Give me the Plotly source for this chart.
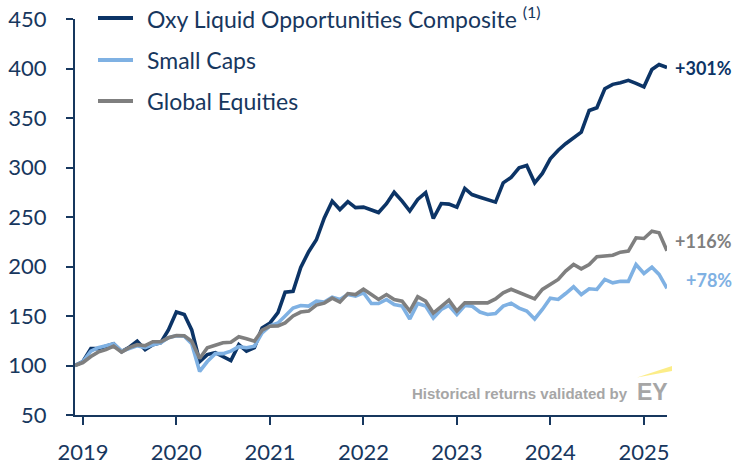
import plotly.graph_objects as go
import pandas as pd

# Monthly observations, Dec 2018 .. Apr 2025 (index, start = 100)
dates = pd.date_range("2018-12-01", "2025-04-01", freq="MS")

oxy = [100, 104, 117, 117, 119.5, 122, 114, 118.5, 124.5, 116, 121, 123,
       136, 154, 151.5, 136, 104, 111, 113, 109, 105, 121, 114.5, 118,
       138, 143, 153.5, 174, 175, 199, 215, 227, 249, 266, 257.5, 265.5,
       259.5, 260, 257.5, 254.5, 263.5, 275, 266, 256, 267.7, 274.5, 248.5, 263.6,
       263, 260, 278.8, 272.7, 270, 267.7, 265, 284.5, 290, 299.7, 302, 284.5,
       294, 308.8, 317.5, 324, 330, 335.7, 357.6, 360.3, 379.5, 384, 385.6, 388,
       385, 381.5, 399, 404, 401]

small_caps = [100, 104, 114.5, 118, 120, 122, 114.5, 117.5, 120, 118, 121, 123,
              128, 130, 129.5, 122, 94, 104, 112, 112, 114.5, 119, 118, 119.5,
              133, 140, 143, 150, 158, 160.6, 160, 165, 164, 169, 166.7, 171.7,
              170, 173.5, 162.6, 162.6, 166.7, 161.6, 160, 147, 162.6, 160, 148, 156.6,
              160.6, 151.5, 160.6, 160, 154, 151.5, 152.5, 160, 163, 158, 155, 147,
              156.6, 168, 166.7, 172.7, 179.5, 171.7, 177.5, 176.8, 187, 183.5, 185, 185,
              202, 193, 199.3, 192, 178]

global_eq = [100, 103, 109, 113.5, 116, 119.5, 113.5, 118, 121, 120, 124, 124,
             128, 130.3, 130, 124.5, 107, 118, 120.5, 123, 123.5, 129, 127, 124.5,
             135.7, 139.7, 140, 143, 150, 154, 155, 161, 163, 168, 164, 172.7,
             171.7, 177, 171.7, 166.7, 171.7, 166.7, 165, 155, 169.4, 165, 153, 160,
             166, 155, 163.3, 163.3, 163.3, 163.3, 167.3, 173.4, 177, 173.4, 170.7, 167.3,
             176.8, 181.8, 186.9, 195.3, 202, 197.6, 202, 209.8, 211, 211.4, 214.5, 215.5,
             229, 228.3, 235.7, 234, 216]

names = ["Oxy Liquid Opportunities Composite", "Small Caps", "Global Equities"]
colors = ["#0c3466", "#7fb1e3", "#7f7f7f"]
end_labels = ["+301%", "+116%", "+78%"]

y_ticks = [50, 100, 150, 200, 250, 300, 350, 400, 450]
x_ticks = pd.date_range("2019-01-01", "2025-01-01", freq="YS")
x_tick_labels = [str(d.year) for d in x_ticks]

NAVY = "#17375e"
FONT = "Lato"

fig = go.Figure()
for series, name, col in [(oxy, names[0], colors[0]),
                          (small_caps, names[1], colors[1]),
                          (global_eq, names[2], colors[2])]:
    fig.add_trace(go.Scatter(x=dates, y=series, mode="lines", name=name,
                             line=dict(color=col, width=3.6), showlegend=False))

# plot area geometry in screen px
L, R, T, B = 75, 667, 19, 415
W, H = 745, 464
def px(x):
    return (x - L) / (R - L)
def py(y):
    return (B - y) / (B - T)

shapes = []
annotations = []
# manual legend
legend_rows = [18, 60, 101]
legend_text = [names[0] + " <sup>(1)</sup>", names[1], names[2]]
for row, txt, col in zip(legend_rows, legend_text, colors):
    shapes.append(dict(type="line", xref="paper", yref="paper",
                       x0=px(98), x1=px(133), y0=py(row), y1=py(row),
                       line=dict(color=col, width=4)))
    annotations.append(dict(xref="paper", yref="paper", x=px(145), y=py(row),
                            xanchor="left", yanchor="middle", showarrow=False,
                            text=txt, font=dict(family=FONT, size=23, color=NAVY)))

# end labels
end_vals = [oxy[-1], global_eq[-1], small_caps[-1]]
end_cols = [colors[0], colors[2], colors[1]]
end_shift = [0, 10, 8]
for lab, v, col, sh in zip(end_labels, end_vals, end_cols, end_shift):
    annotations.append(dict(xref="paper", yref="y", x=px(734), y=v, yshift=sh,
                            xanchor="right", yanchor="middle", showarrow=False,
                            text="<b>" + lab + "</b>",
                            font=dict(family=FONT, size=18, color=col)))

# watermark
annotations.append(dict(xref="paper", yref="paper", x=px(630), y=py(393),
                        xanchor="right", yanchor="middle", showarrow=False,
                        text="<b>Historical returns validated by</b>",
                        font=dict(family="Liberation Sans", size=15, color="#a6a6a6")))
annotations.append(dict(xref="paper", yref="paper", x=px(635), y=py(392),
                        xanchor="left", yanchor="middle", showarrow=False,
                        text="<b>EY</b>",
                        font=dict(family="Liberation Sans", size=23, color="#a6a6a6")))
shapes.append(dict(type="path", xref="paper", yref="paper",
                   path=f"M {px(637)} {py(377.5)} L {px(672)} {py(366)} L {px(672)} {py(371)} Z",
                   fillcolor="#fbe96a", line=dict(width=0), opacity=0.8))

fig.update_layout(
    width=W, height=H,
    margin=dict(l=L, r=W - R, t=T, b=H - B, autoexpand=False),
    paper_bgcolor="white", plot_bgcolor="white",
    shapes=shapes, annotations=annotations,
    xaxis=dict(range=[dates[0], dates[-1]], tickvals=x_ticks, ticktext=x_tick_labels,
               automargin=False, ticklabeloverflow="allow",
               showgrid=False, zeroline=False, showline=True, linecolor=NAVY, linewidth=2,
               ticks="outside", ticklen=8, tickwidth=2, tickcolor=NAVY,
               ticklabelstandoff=9,
               tickfont=dict(family=FONT, size=22, color=NAVY)),
    yaxis=dict(range=[50, 450], tickvals=y_ticks, showgrid=False, zeroline=False,
               automargin=False, ticklabeloverflow="allow",
               showline=True, linecolor=NAVY, linewidth=2,
               ticks="outside", ticklen=7, tickwidth=2, tickcolor=NAVY,
               ticklabelstandoff=15,
               tickfont=dict(family=FONT, size=22, color=NAVY)),
)

fig.write_html("out.html", config={"displayModeBar": False},
               post_script="document.body.style.margin='0';document.body.style.padding='0';")
